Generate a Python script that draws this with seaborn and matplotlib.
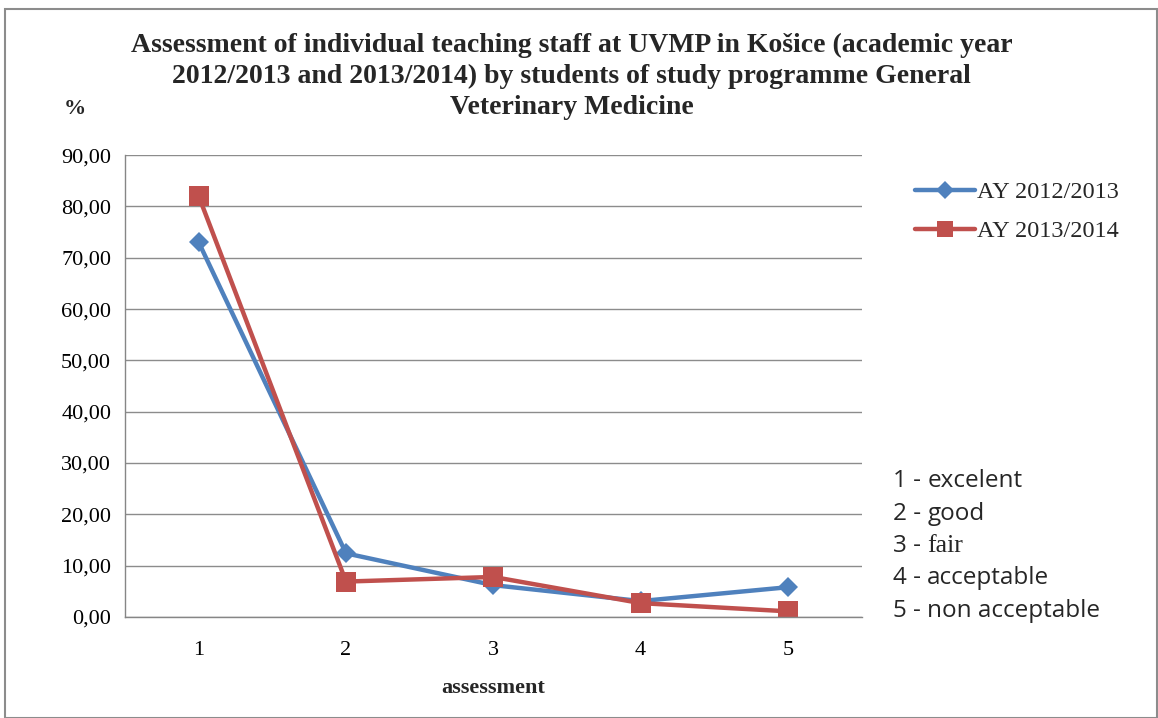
import matplotlib
matplotlib.use("Agg")
import matplotlib.pyplot as plt
import seaborn as sns
import pandas as pd
from matplotlib.ticker import FuncFormatter, FixedLocator
from matplotlib.lines import Line2D

categories = [1, 2, 3, 4, 5]
series_names = ["AY 2012/2013", "AY 2013/2014"]
ay_2012_2013 = [73.0, 12.4, 6.2, 3.1, 5.8]
ay_2013_2014 = [82.0, 6.9, 7.8, 2.7, 1.1]
note_nums = ["1 - ", "2 - ", "3 - ", "4 - ", "5 - "]
note_words = ["excelent", "good", "fair", "acceptable", "non acceptable"]
title_lines = ["Assessment of individual teaching staff at UVMP in Košice (academic year",
               "2012/2013 and 2013/2014) by students of study programme General",
               "Veterinary Medicine"]

df = pd.DataFrame({
    "assessment": categories * 2,
    "value": ay_2012_2013 + ay_2013_2014,
    "series": [series_names[0]] * 5 + [series_names[1]] * 5,
})

sns.set_style("white")
plt.rcParams["font.family"] = ["Liberation Serif", "DejaVu Serif"]

fig = plt.figure(figsize=(11.58, 7.18), dpi=100)
ax = fig.add_axes([0.108, 0.1407, 0.636, 0.6433])

palette = {series_names[0]: "#4F81BD", series_names[1]: "#C0504D"}
markers = {series_names[0]: "D", series_names[1]: "s"}
sns.lineplot(data=df, x="assessment", y="value", hue="series", style="series",
             markers=markers, dashes=False, palette=palette, linewidth=3.2,
             markersize=12, markeredgewidth=0, ax=ax, legend=False)
for line, ms in zip(ax.get_lines(), [10, 14]):
    line.set_markersize(ms)

ax.set_xlim(0.5, 5.5)
ax.set_ylim(0, 90)
ax.set_yticks(range(0, 91, 10))
ax.yaxis.set_major_formatter(FuncFormatter(lambda v, p: f"{v:.2f}".replace(".", ",")))
ax.set_xticks(categories)
ax.xaxis.set_minor_locator(FixedLocator([1.5, 2.5, 3.5, 4.5, 5.5]))
ax.tick_params(axis="x", which="major", length=0, labelsize=16, pad=17)
ax.tick_params(axis="x", which="minor", length=6, width=1, color="#868686", direction="out")
ax.tick_params(axis="y", which="major", length=6, width=1, color="#868686", direction="out",
               labelsize=16, pad=4)
ax.tick_params(axis="both", labelcolor="black")
ax.grid(axis="y", color="#8c8c8c", linewidth=1)
ax.set_axisbelow(True)
for s in ["top", "right"]:
    ax.spines[s].set_visible(False)
for s in ["left", "bottom"]:
    ax.spines[s].set_color("#868686")
    ax.spines[s].set_linewidth(1)

ax.set_xlabel("assessment", fontsize=16, fontweight="bold", labelpad=13)
ax.set_ylabel("")

for i, (t, y) in enumerate(zip(title_lines, [45, 76, 107])):
    fig.text(0.4935, 1 - y / 718, t, ha="center", va="center", fontsize=20,
             fontweight="bold")
fig.text(0.065, 1 - 109 / 718, "%", ha="center", va="center", fontsize=16, fontweight="bold")

handles = [Line2D([], [], color=palette[n], marker=markers[n], linewidth=3.2,
                  markersize=(9 if markers[n] == "D" else 12), markeredgewidth=0)
           for n in series_names]
fig.legend(handles, series_names, loc="upper left", bbox_to_anchor=(0.771, 0.778),
           frameon=False, fontsize=17.5, handlelength=2.5, handletextpad=0.05,
           labelspacing=0.7)

fig.canvas.draw()
renderer = fig.canvas.get_renderer()
for i, (n, w) in enumerate(zip(note_nums, note_words)):
    y = 1 - (481 + i * 32.5) / 718
    t = fig.text(893 / 1158, y, n, ha="left", va="center", fontsize=17.5,
                 family=["Open Sans", "DejaVu Sans"])
    bb = t.get_window_extent(renderer=renderer)
    fam = ["Liberation Serif"] if w == "fair" else ["Open Sans", "DejaVu Sans"]
    fig.text(bb.x1 / fig.bbox.width, y, w, ha="left", va="center",
             fontsize=(18.5 if w == "fair" else 17.5), family=fam)

fig.patches.append(plt.Rectangle((0.004, 0.0), 0.995, 0.988, transform=fig.transFigure,
                                 fill=False, edgecolor="#8c8c8c", linewidth=1.5))

fig.savefig("out.png", dpi=100)
